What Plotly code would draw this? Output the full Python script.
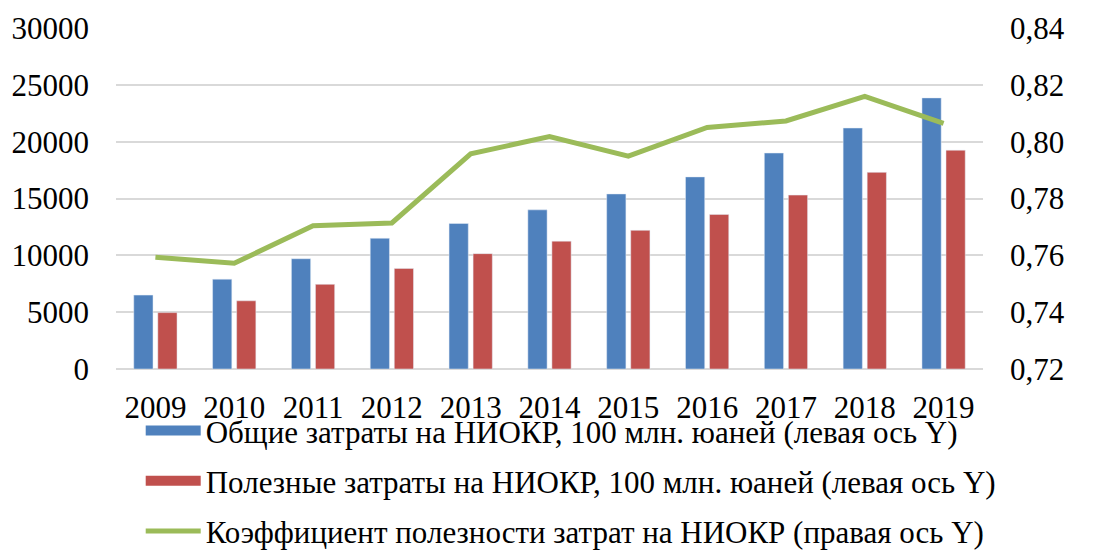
import plotly.graph_objects as go

# Data
years = ["2009", "2010", "2011", "2012", "2013", "2014", "2015", "2016", "2017", "2018", "2019"]
total_rd = [6500, 7900, 9700, 11500, 12800, 14000, 15400, 16900, 19000, 21200, 23850]
useful_rd = [4960, 6000, 7450, 8850, 10150, 11250, 12200, 13600, 15300, 17300, 19250]
efficiency = [0.7593, 0.7572, 0.7704, 0.7714, 0.7957, 0.8018, 0.7949, 0.8050, 0.8073, 0.8159, 0.8064]

left_ticks = [0, 5000, 10000, 15000, 20000, 25000, 30000]
left_labels = ["0", "5000", "10000", "15000", "20000", "25000", "30000"]
right_ticks = [0.72, 0.74, 0.76, 0.78, 0.80, 0.82, 0.84]
right_labels = ["0,72", "0,74", "0,76", "0,78", "0,80", "0,82", "0,84"]

names = [
    "Общие затраты на НИОКР, 100 млн. юаней (левая ось Y)",
    "Полезные затраты на НИОКР, 100 млн. юаней (левая ось Y)",
    "Коэффициент полезности затрат на НИОКР (правая ось Y)",
]

COLORS = {
    'total': '#4f81bd',
    'useful': '#c0504d',
    'coef': '#9bbb59',
    'grid': '#d9d9d9',
    'text': '#000000',
}
FONT = "Liberation Serif, Times New Roman, serif"

fig = go.Figure()

# bars (their legend keys are the wide line swatches below)
fig.add_trace(go.Bar(x=years, y=total_rd, marker=dict(color=COLORS['total']),
                     name=names[0], showlegend=False))
fig.add_trace(go.Bar(x=years, y=useful_rd, marker=dict(color=COLORS['useful']),
                     name=names[1], showlegend=False))

fig.add_trace(go.Scatter(x=[None], y=[None], mode='lines', name=names[0],
                         line=dict(color=COLORS['total'], width=16), legendgroup="a"))
fig.add_trace(go.Scatter(x=[None], y=[None], mode='lines', name=names[1],
                         line=dict(color=COLORS['useful'], width=16), legendgroup="b"))

fig.add_trace(go.Scatter(
    x=years, y=efficiency,
    mode='lines',
    line=dict(color=COLORS['coef'], width=5),
    name=names[2],
    legendgroup="c",
    yaxis='y2',
))

# page body has an 8px margin, so the figure is 8px smaller each way
fig.update_layout(
    width=1093, height=543,
    margin=dict(l=108, r=118, t=20, b=182, autoexpand=False),
    paper_bgcolor='white',
    plot_bgcolor='white',
    font=dict(family=FONT, size=31, color=COLORS['text']),
    barmode='group',
    bargap=0.39,
    bargroupgap=0.2,
    xaxis=dict(
        showgrid=False, showline=False, ticks="",
        ticklabelstandoff=17,
    ),
    yaxis=dict(
        range=[0, 30000], tickvals=left_ticks, ticktext=left_labels,
        showgrid=True, gridcolor=COLORS['grid'], gridwidth=1.5,
        zeroline=True, zerolinecolor=COLORS['grid'], zerolinewidth=1.5,
        ticks="", ticklabelstandoff=26,
    ),
    yaxis2=dict(
        range=[0.72, 0.84], tickvals=right_ticks, ticktext=right_labels,
        overlaying='y', side='right', showgrid=False, zeroline=False,
        ticks="", ticklabelstandoff=26,
    ),
    showlegend=True,
    legend=dict(
        orientation='v', x=0.0285, xanchor='left', y=-0.102, yanchor='top',
        traceorder='grouped', tracegroupgap=7,
        bgcolor='rgba(0,0,0,0)',
        font=dict(size=31), itemwidth=55,
    ),
)

fig.write_html("out.html")
